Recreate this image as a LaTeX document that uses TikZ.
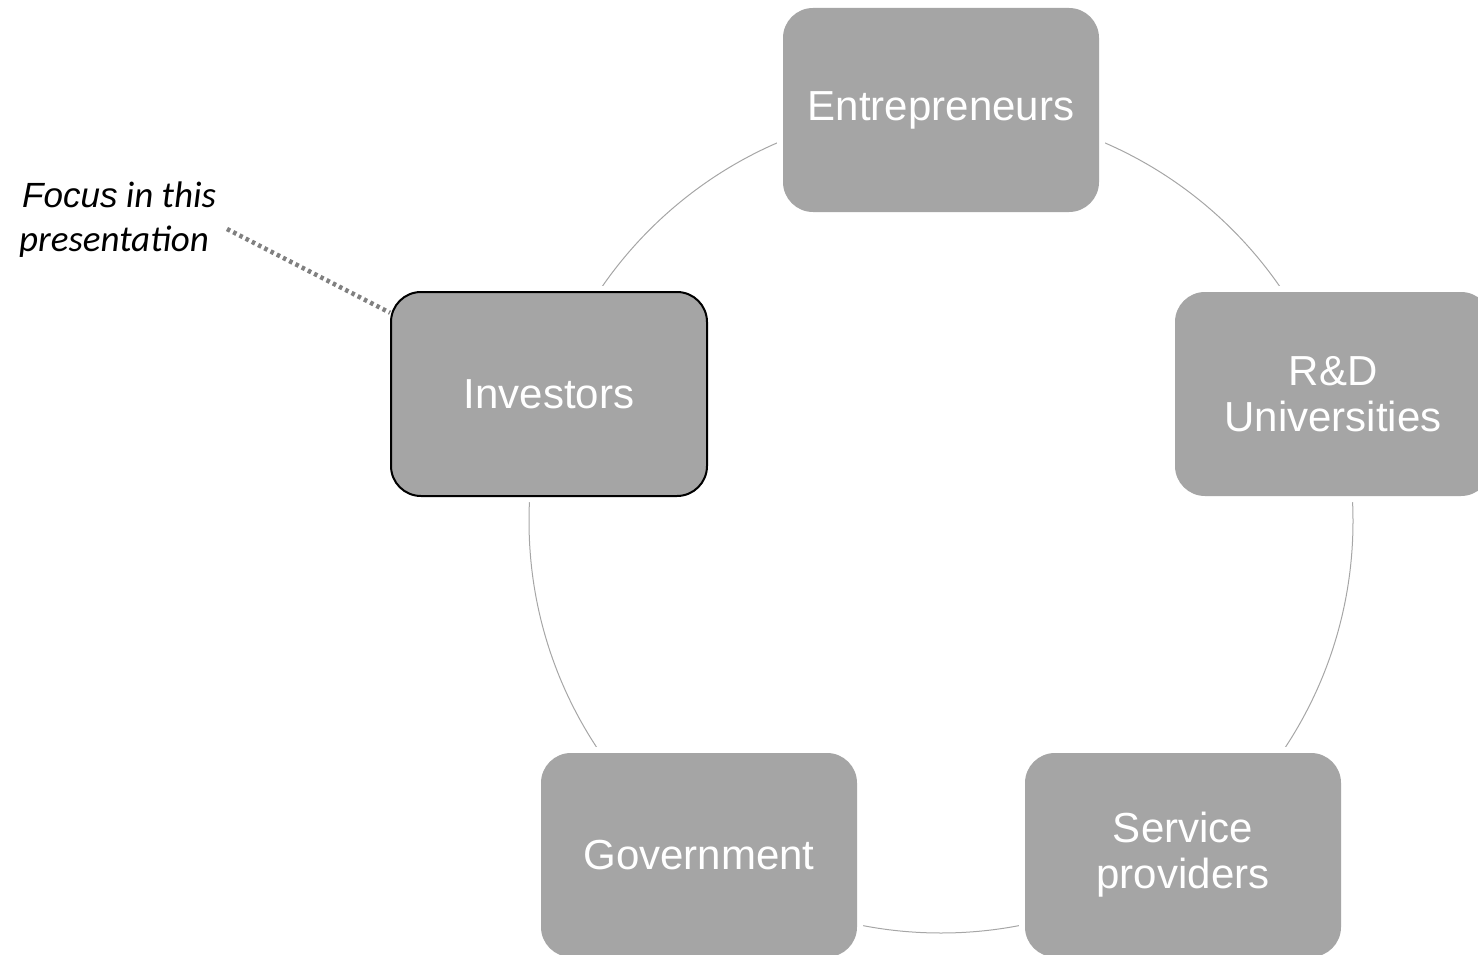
\documentclass[tikz,border=0pt]{standalone}
\usepackage{fontspec}
\setmainfont{Liberation Sans}
\newfontfamily\carlito{Carlito}
\definecolor{boxfill}{HTML}{A5A5A5}
\definecolor{ringcol}{HTML}{A6A6A6}
\definecolor{dotcol}{HTML}{808080}
\tikzset{
  stakebox/.style={rectangle, rounded corners=30pt, fill=boxfill, minimum width=316pt, minimum height=204pt,
    text=white, font=\fontsize{42}{46}\selectfont, align=center, inner sep=0pt,
    preaction={draw=white, line width=12pt}},
  focusbox/.style={stakebox, draw=black, line width=2pt},
  ring/.style={draw=ringcol, line width=1pt},
  pointer/.style={draw=dotcol, line width=4.5pt, dash pattern=on 3.5pt off 3.5pt},
}
\begin{document}
\begin{tikzpicture}[x=1pt,y=-1pt]
\useasboundingbox (0,0) rectangle (1478,955);
\clip (0,0) rectangle (1478,955);
\coordinate (c) at (941,521);
\draw[ring] (c) circle (412pt);
\node[stakebox] (ent) at (941,110) {Entrepreneurs};
\node[focusbox] (inv) at (549,394) {Investors};
\node[stakebox] (rnd) at (1333,394) {R\&D\\Universities};
\node[stakebox] (gov) at (699,855) {Government};
\node[stakebox] (srv) at (1183,855) {Service\\providers};
\node[anchor=base west, inner sep=0pt, align=left] (focus) at (22,207)
  {{\fontsize{35}{43}\selectfont\itshape Focus}{\carlito\fontsize{37}{43}\selectfont\itshape\ in this}};
\node[anchor=base west, inner sep=0pt] (pres) at (19,251)
  {\carlito\fontsize{37}{43}\selectfont\itshape presentation};
\coordinate (fstart) at (227,229);
\draw[pointer] (fstart) -- (inv);
\end{tikzpicture}
\end{document}
